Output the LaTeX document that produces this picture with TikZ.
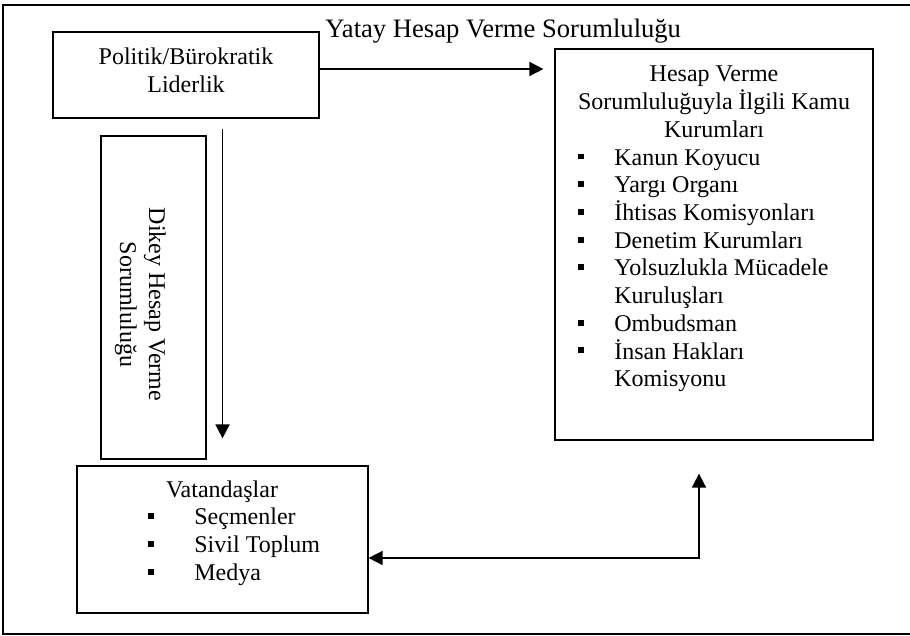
\documentclass[tikz,border=0pt]{standalone}
\usepackage{fontspec}
\setmainfont{Liberation Serif}
\usetikzlibrary{arrows.meta}

\newcommand{\madde}[1][18pt]{\makebox[#1][l]{\rule[2.8pt]{3pt}{3pt}}}

\begin{document}
\begin{tikzpicture}[x=0.5pt,y=-0.5pt,
  kutu/.style={draw, line width=0.6pt, inner sep=0pt},
  yazi/.style={inner sep=0pt, font=\fontsize{12}{13.85}\selectfont},
  ok/.style={line width=0.8pt, -{Triangle[length=7pt,width=7pt]}}]
\useasboundingbox (0,0) rectangle (910,636);
\draw [line width=0.8pt] (910,5) -- (3,5) -- (3,634) -- (910,634);

% kutular
\node [kutu, minimum width=133pt, minimum height=43pt] (lider) at (186,75) {};
\node [kutu, minimum width=159pt, minimum height=195.5pt] (kurum) at (714,244.5) {};
\node [kutu, line width=1pt, minimum width=52.5pt, minimum height=161.5pt] (dikey) at (153.5,297.5) {};
\node [kutu, minimum width=145.5pt, minimum height=73.5pt] (vatandas) at (222.5,539.5) {};

% yazilar (base = son satir)
\node [yazi, font=\fontsize{13.3}{15}\selectfont, anchor=base west] (yatay) at (325,38) {Yatay Hesap Verme Sorumluluğu};
\node [yazi, align=center, anchor=base] (lideryazi) at (186,92.4) {Politik/Bürokratik\\Liderlik};
\node [yazi, align=center, anchor=base] (kurumbaslik) at (714,137.4) {Hesap Verme\\Sorumluluğuyla İlgili Kamu\\Kurumları};
\node [yazi, align=left, anchor=base west] (kurumliste) at (578,386.7) {\madde Kanun Koyucu\\\madde Yargı Organı\\\madde İhtisas Komisyonları\\\madde Denetim Kurumları\\\madde Yolsuzlukla Mücadele\\\hspace*{18pt}Kuruluşları\\\madde Ombudsman\\\madde İnsan Hakları\\\hspace*{18pt}Komisyonu};
\node [yazi, font=\fontsize{12}{14.5}\selectfont, align=center, rotate=-90, anchor=base] (dikeyyazi) at (120,304.5) {Dikey Hesap Verme\\Sorumluluğu};
\node [yazi, anchor=base] (vatbaslik) at (222,497) {Vatandaşlar};
\node [yazi, align=left, anchor=base west] (vatliste) at (148,580.1) {\madde[23pt]Seçmenler\\\madde[23pt]Sivil Toplum\\\madde[23pt]Medya};

% oklar
\coordinate (kose) at (699,558);
\draw [ok, shorten >=5.5pt] ([yshift=3pt]lider.east) -- ([yshift=3pt]lider.east -| kurum.west);
\draw [ok, shorten <=5pt, shorten >=13.5pt] (lider.south -| vatandas.north) -- (vatandas.north);
\draw [line width=0.8pt, {Triangle[length=7pt,width=7pt]}-{Triangle[length=7pt,width=7pt]}, shorten >=16.5pt] (vatandas.east |- kose) -- (kose) -- (kose |- kurum.south);
\end{tikzpicture}
\end{document}
